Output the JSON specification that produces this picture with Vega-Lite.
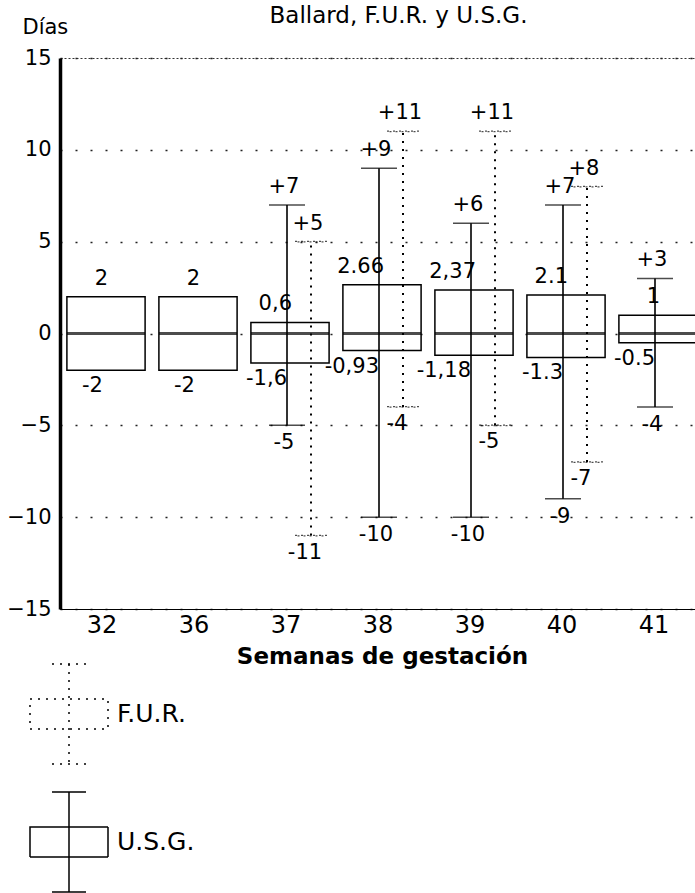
{
  "$schema": "https://vega.github.io/schema/vega-lite/v6.json",
  "width": 635,
  "height": 551,
  "autosize": {"type": "none"},
  "padding": {"left": 60, "top": 58, "right": 0, "bottom": 284},
  "background": "white",
  "config": {
    "font": "DejaVu Sans",
    "view": {"stroke": "#333", "strokeWidth": 1, "strokeDash": [2, 2]},
    "axis": {"labelFont": "DejaVu Sans", "titleFont": "DejaVu Sans", "labelColor": "black", "titleColor": "black"},
    "text": {"font": "DejaVu Sans", "fontSize": 21, "color": "black", "baseline": "middle"}
  },
  "title": {"text": "Ballard, F.U.R. y U.S.G.", "fontSize": 23, "fontWeight": "normal", "font": "DejaVu Sans", "offset": -30, "dx": 21, "anchor": "middle", "color": "black", "baseline": "alphabetic"},
  "datasets": {
    "cajas": [
      {"semana": "32", "q1": -2, "q3": 2, "mediana": 0},
      {"semana": "36", "q1": -2, "q3": 2, "mediana": 0},
      {"semana": "37", "q1": -1.6, "q3": 0.6, "mediana": 0},
      {"semana": "38", "q1": -0.93, "q3": 2.66, "mediana": 0},
      {"semana": "39", "q1": -1.18, "q3": 2.37, "mediana": 0},
      {"semana": "40", "q1": -1.3, "q3": 2.1, "mediana": 0},
      {"semana": "41", "q1": -0.5, "q3": 1, "mediana": 0}
    ],
    "bigotes": [
      {"semana": "37", "serie": "U.S.G.", "min": -5, "max": 7},
      {"semana": "38", "serie": "U.S.G.", "min": -10, "max": 9},
      {"semana": "39", "serie": "U.S.G.", "min": -10, "max": 6},
      {"semana": "40", "serie": "U.S.G.", "min": -9, "max": 7},
      {"semana": "41", "serie": "U.S.G.", "min": -4, "max": 3},
      {"semana": "37", "serie": "F.U.R.", "min": -11, "max": 5},
      {"semana": "38", "serie": "F.U.R.", "min": -4, "max": 11},
      {"semana": "39", "serie": "F.U.R.", "min": -5, "max": 11},
      {"semana": "40", "serie": "F.U.R.", "min": -7, "max": 8}
    ],
    "etiquetas": [
      {"semana": "32", "texto": "2", "valor": 2, "rol": "caja_max"},
      {"semana": "32", "texto": "-2", "valor": -2, "rol": "caja_min"},
      {"semana": "36", "texto": "2", "valor": 2, "rol": "caja_max"},
      {"semana": "36", "texto": "-2", "valor": -2, "rol": "caja_min"},
      {"semana": "37", "texto": "+7", "valor": 7, "rol": "usg_max"},
      {"semana": "37", "texto": "+5", "valor": 5, "rol": "fur_max"},
      {"semana": "37", "texto": "0,6", "valor": 0.6, "rol": "caja_max"},
      {"semana": "37", "texto": "-1,6", "valor": -1.6, "rol": "caja_min"},
      {"semana": "37", "texto": "-5", "valor": -5, "rol": "usg_min"},
      {"semana": "37", "texto": "-11", "valor": -11, "rol": "fur_min"},
      {"semana": "38", "texto": "+11", "valor": 11, "rol": "fur_max"},
      {"semana": "38", "texto": "+9", "valor": 9, "rol": "usg_max"},
      {"semana": "38", "texto": "2.66", "valor": 2.66, "rol": "caja_max"},
      {"semana": "38", "texto": "-0,93", "valor": -0.93, "rol": "caja_min"},
      {"semana": "38", "texto": "-4", "valor": -4, "rol": "fur_min"},
      {"semana": "38", "texto": "-10", "valor": -10, "rol": "usg_min"},
      {"semana": "39", "texto": "+11", "valor": 11, "rol": "fur_max"},
      {"semana": "39", "texto": "+6", "valor": 6, "rol": "usg_max"},
      {"semana": "39", "texto": "2,37", "valor": 2.37, "rol": "caja_max"},
      {"semana": "39", "texto": "-1,18", "valor": -1.18, "rol": "caja_min"},
      {"semana": "39", "texto": "-5", "valor": -5, "rol": "fur_min"},
      {"semana": "39", "texto": "-10", "valor": -10, "rol": "usg_min"},
      {"semana": "40", "texto": "+7", "valor": 7, "rol": "usg_max"},
      {"semana": "40", "texto": "+8", "valor": 8, "rol": "fur_max"},
      {"semana": "40", "texto": "2.1", "valor": 2.1, "rol": "caja_max"},
      {"semana": "40", "texto": "-1.3", "valor": -1.3, "rol": "caja_min"},
      {"semana": "40", "texto": "-7", "valor": -7, "rol": "fur_min"},
      {"semana": "40", "texto": "-9", "valor": -9, "rol": "usg_min"},
      {"semana": "41", "texto": "+3", "valor": 3, "rol": "usg_max"},
      {"semana": "41", "texto": "1", "valor": 1, "rol": "caja_max"},
      {"semana": "41", "texto": "-0.5", "valor": -0.5, "rol": "caja_min"},
      {"semana": "41", "texto": "-4", "valor": -4, "rol": "usg_min"}
    ]
  },
  "layer": [
    {
      "data": {"name": "cajas"},
      "mark": {"type": "bar", "width": {"band": 0.85}, "fill": "white", "stroke": "black", "strokeWidth": 1.5},
      "encoding": {
        "x": {
          "field": "semana", "type": "ordinal",
          "scale": {"type": "band", "domain": ["32", "36", "37", "38", "39", "40", "41"], "range": [0, 644], "paddingInner": 0, "paddingOuter": 0},
          "axis": {"title": "Semanas de gestación", "titleFontSize": 23, "titleFontWeight": "bold", "titlePadding": 8, "labelAngle": 0, "labelFontSize": 24, "ticks": false, "labelPadding": 4, "labelOffset": -4, "domainColor": "black", "domainWidth": 1.2, "grid": false}
        },
        "y": {
          "field": "q1", "type": "quantitative",
          "scale": {"domain": [-15, 15], "nice": false, "zero": false},
          "axis": {"title": "Días", "titleAngle": 0, "titleAlign": "left", "titleBaseline": "alphabetic", "titleX": -38, "titleY": -25, "titleFontSize": 21, "titleFontWeight": "normal", "values": [-15, -10, -5, 0, 5, 10, 15], "labelFontSize": 21, "ticks": false, "labelPadding": 9, "domainColor": "black", "domainWidth": 3.5, "grid": true, "gridDash": [2, 13], "gridColor": "#222", "gridWidth": 1.6}
        },
        "y2": {"field": "q3"}
      }
    },
    {
      "data": {"name": "cajas"},
      "mark": {"type": "tick", "size": 78, "thickness": 3, "color": "black"},
      "encoding": {
        "x": {"field": "semana", "type": "ordinal"},
        "y": {"field": "mediana", "type": "quantitative"}
      }
    },
    {
      "data": {"name": "bigotes"},
      "transform": [{"filter": "datum.serie == 'U.S.G.'"}],
      "mark": {"type": "rule", "color": "black", "strokeWidth": 1.6, "xOffset": -3},
      "encoding": {
        "x": {"field": "semana", "type": "ordinal"},
        "y": {"field": "min", "type": "quantitative"},
        "y2": {"field": "max"},
        "strokeDash": {
          "field": "serie", "type": "nominal",
          "scale": {"domain": ["F.U.R.", "U.S.G."], "range": [[2, 6], [1, 0]]},
          "legend": {"title": null, "orient": "none", "legendX": -42, "legendY": 605, "symbolType": "M-0.78,-0.3H0.78V0.3H-0.78Z M0,-1V1 M-0.34,-1H0.34 M-0.34,1H0.34", "symbolSize": 10000, "symbolStrokeWidth": 1.5, "symbolStrokeColor": "black", "symbolFillColor": "transparent", "labelFontSize": 25, "labelFont": "DejaVu Sans", "labelColor": "black", "rowPadding": 22, "labelOffset": -3, "padding": 0}
        }
      }
    },
    {
      "data": {"name": "bigotes"},
      "transform": [{"filter": "datum.serie == 'F.U.R.'"}],
      "mark": {"type": "rule", "color": "black", "strokeWidth": 2, "xOffset": 21},
      "encoding": {
        "x": {"field": "semana", "type": "ordinal"},
        "y": {"field": "min", "type": "quantitative"},
        "y2": {"field": "max"},
        "strokeDash": {"field": "serie", "type": "nominal"}
      }
    },
    {
      "data": {"name": "bigotes"},
      "transform": [{"filter": "datum.serie == 'U.S.G.'"}, {"fold": ["min", "max"], "as": ["extremo", "valor"]}],
      "mark": {"type": "tick", "size": 36, "thickness": 1.5, "color": "black", "xOffset": -3},
      "encoding": {
        "x": {"field": "semana", "type": "ordinal"},
        "y": {"field": "valor", "type": "quantitative"}
      }
    },
    {
      "data": {"name": "bigotes"},
      "transform": [{"filter": "datum.serie == 'F.U.R.'"}, {"fold": ["min", "max"], "as": ["extremo", "valor"]}],
      "mark": {"type": "tick", "size": 32, "thickness": 0.5, "filled": false, "stroke": "black", "strokeWidth": 1.3, "strokeDash": [2, 4], "xOffset": 21},
      "encoding": {
        "x": {"field": "semana", "type": "ordinal"},
        "y": {"field": "valor", "type": "quantitative"}
      }
    },
    {
      "data": {"name": "etiquetas"},
      "transform": [{"filter": "datum.rol == 'usg_max'"}],
      "mark": {"type": "text", "align": "center", "dx": -6, "dy": -18},
      "encoding": {"x": {"field": "semana", "type": "ordinal"}, "y": {"field": "valor", "type": "quantitative"}, "text": {"field": "texto"}}
    },
    {
      "data": {"name": "etiquetas"},
      "transform": [{"filter": "datum.rol == 'usg_min'"}],
      "mark": {"type": "text", "align": "center", "dx": -6, "dy": 18},
      "encoding": {"x": {"field": "semana", "type": "ordinal"}, "y": {"field": "valor", "type": "quantitative"}, "text": {"field": "texto"}}
    },
    {
      "data": {"name": "etiquetas"},
      "transform": [{"filter": "datum.rol == 'fur_max'"}],
      "mark": {"type": "text", "align": "center", "dx": 18, "dy": -18},
      "encoding": {"x": {"field": "semana", "type": "ordinal"}, "y": {"field": "valor", "type": "quantitative"}, "text": {"field": "texto"}}
    },
    {
      "data": {"name": "etiquetas"},
      "transform": [{"filter": "datum.rol == 'fur_min'"}],
      "mark": {"type": "text", "align": "center", "dx": 15, "dy": 17},
      "encoding": {"x": {"field": "semana", "type": "ordinal"}, "y": {"field": "valor", "type": "quantitative"}, "text": {"field": "texto"}}
    },
    {
      "data": {"name": "etiquetas"},
      "transform": [{"filter": "datum.rol == 'caja_max'"}],
      "mark": {"type": "text", "align": "right", "dx": 2, "dy": -18},
      "encoding": {"x": {"field": "semana", "type": "ordinal"}, "y": {"field": "valor", "type": "quantitative"}, "text": {"field": "texto"}}
    },
    {
      "data": {"name": "etiquetas"},
      "transform": [{"filter": "datum.rol == 'caja_min'"}],
      "mark": {"type": "text", "align": "right", "dx": -3, "dy": 16},
      "encoding": {"x": {"field": "semana", "type": "ordinal"}, "y": {"field": "valor", "type": "quantitative"}, "text": {"field": "texto"}}
    }
  ]
}
